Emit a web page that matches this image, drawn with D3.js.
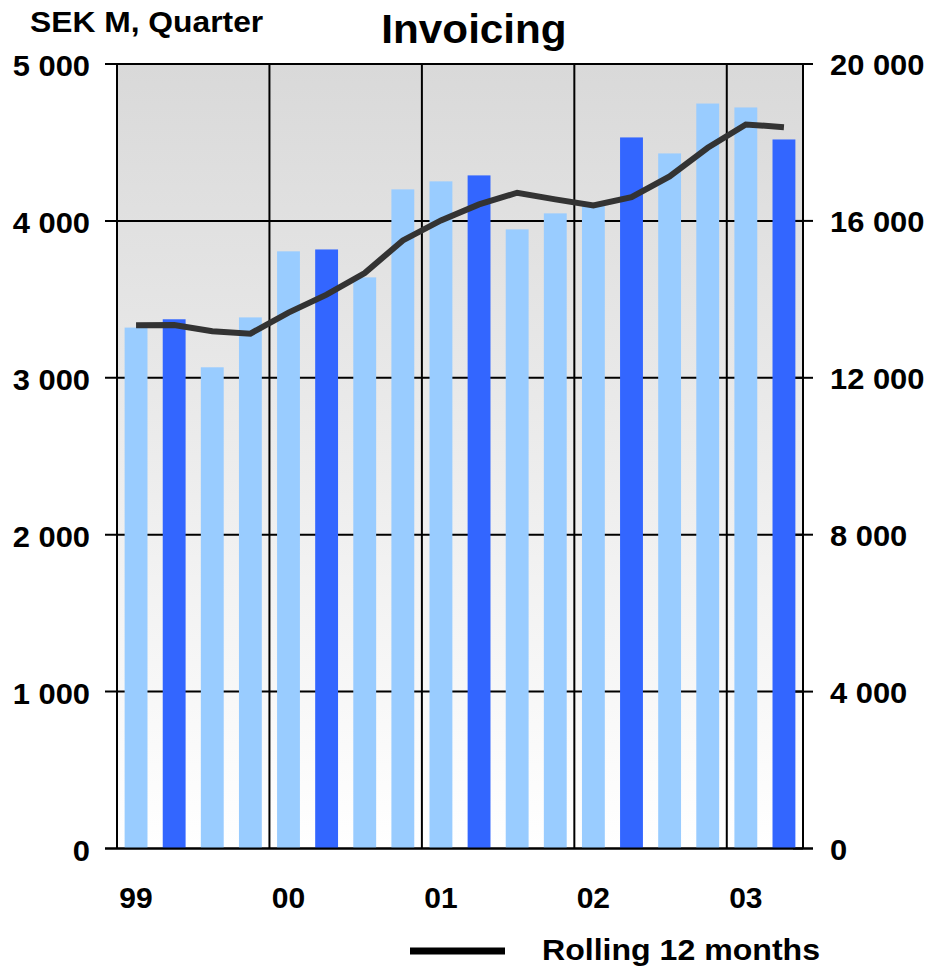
<!DOCTYPE html>
<html><head><meta charset="utf-8">
<script src="https://cdn.jsdelivr.net/npm/d3@7"></script>
<style>body{margin:0;background:#fff}svg{display:block}text{font-family:"Liberation Sans",Arial,sans-serif;font-weight:bold;fill:#000}</style>
</head><body>
<script>
const quarters = ["99Q1","99Q2","99Q3","99Q4","00Q1","00Q2","00Q3","00Q4","01Q1","01Q2","01Q3","01Q4","02Q1","02Q2","02Q3","02Q4","03Q1","03Q2"];
const invoicing = [3320,3373,3067,3385,3806,3818,3640,4201,4252,4290,3946,4048,4099,4532,4430,4748,4723,4519];
const rolling12 = [13338,13345,13185,13126,13661,14120,14670,15503,16013,16420,16718,16548,16395,16606,17134,17865,18459,18390];
const highlight = ["99Q2","00Q2","01Q2","02Q2","03Q2"];
const yearLabels = [{q:"99Q1",t:"99"},{q:"00Q1",t:"00"},{q:"01Q1",t:"01"},{q:"02Q1",t:"02"},{q:"03Q1",t:"03"}];
const leftTicks = [0,1000,2000,3000,4000,5000];
const rightTicks = [0,4000,8000,12000,16000,20000];
const yearBounds = ["00Q1","01Q1","02Q1","03Q1"];

const W=931,H=968, L=117, R=803, T=64, B=848.5;
const fmt = v => d3.format(",")(v).replace(/,/g," ");
const svg = d3.select("body").append("svg").attr("width",W).attr("height",H);

const x = d3.scaleBand().domain(quarters).range([L,R]).paddingInner(0.4).paddingOuter(0.2);
const yL = d3.scaleLinear().domain([0,5000]).range([B,T]);
const yR = d3.scaleLinear().domain([0,20000]).range([B,T]);

const defs = svg.append("defs");
const g = defs.append("linearGradient").attr("id","bg").attr("x1",0).attr("y1",0).attr("x2",0).attr("y2",1);
g.append("stop").attr("offset","0%").attr("stop-color","#d9d9d9");
g.append("stop").attr("offset","100%").attr("stop-color","#ffffff");
svg.append("rect").attr("x",L).attr("y",T).attr("width",R-L).attr("height",B-T).attr("fill","url(#bg)");

// horizontal gridlines & left ticks
svg.append("g").selectAll("line").data(leftTicks).join("line")
  .attr("x1",105).attr("x2",R).attr("y1",d=>yL(d)).attr("y2",d=>yL(d))
  .attr("stroke","#000").attr("stroke-width",2);
// right ticks
svg.append("g").selectAll("line").data(rightTicks).join("line")
  .attr("x1",793).attr("x2",813).attr("y1",d=>yR(d)).attr("y2",d=>yR(d))
  .attr("stroke","#000").attr("stroke-width",2);
// vertical year gridlines
const step = x.step();
svg.append("g").selectAll("line").data(yearBounds).join("line")
  .attr("x1",d=>x(d)-step*0.2).attr("x2",d=>x(d)-step*0.2).attr("y1",T).attr("y2",B)
  .attr("stroke","#000").attr("stroke-width",2);
// axes lines
svg.append("line").attr("x1",L).attr("x2",L).attr("y1",T).attr("y2",B).attr("stroke","#000").attr("stroke-width",2);
svg.append("line").attr("x1",R).attr("x2",R).attr("y1",T).attr("y2",B).attr("stroke","#000").attr("stroke-width",2);

// bars
svg.append("g").selectAll("rect").data(quarters).join("rect")
  .attr("x",d=>x(d)).attr("width",x.bandwidth())
  .attr("y",(d,i)=>yL(invoicing[i])).attr("height",(d,i)=>B-yL(invoicing[i]))
  .attr("fill",d=>highlight.includes(d)?"#3366ff":"#99ccff");

// baseline
svg.append("line").attr("x1",105).attr("x2",813).attr("y1",B).attr("y2",B).attr("stroke","#000").attr("stroke-width",2);

// rolling line
const line = d3.line().x((d,i)=>x(quarters[i])+x.bandwidth()/2).y(d=>yR(d));
svg.append("path").datum(rolling12).attr("d",line).attr("fill","none")
  .attr("stroke","#333333").attr("stroke-width",6).attr("stroke-linejoin","miter");

// labels
svg.append("g").selectAll("text").data(leftTicks).join("text")
  .attr("transform",d=>`translate(90,${yL(d)+12}) scale(1.03,1)`).attr("text-anchor","end").attr("font-size",30).text(fmt);
svg.append("g").selectAll("text").data(rightTicks).join("text")
  .attr("transform",d=>`translate(830,${yR(d)+11}) scale(1.03,1)`).attr("text-anchor","start").attr("font-size",30).text(fmt);
svg.append("g").selectAll("text").data(yearLabels).join("text")
  .attr("x",d=>x(d.q)+x.bandwidth()/2).attr("y",908).attr("text-anchor","middle").attr("font-size",30).text(d=>d.t);

svg.append("text").attr("transform","translate(474,43) scale(1.03,1)").attr("text-anchor","middle").attr("font-size",41).text("Invoicing");
svg.append("text").attr("transform","translate(30,32) scale(1.06,1)").attr("font-size",30).text("SEK M, Quarter");

svg.append("line").attr("x1",410).attr("x2",505).attr("y1",951).attr("y2",951).attr("stroke","#000").attr("stroke-width",7);
svg.append("text").attr("transform","translate(542,960) scale(1.07,1)").attr("font-size",30).text("Rolling 12 months");
</script>
</body></html>
